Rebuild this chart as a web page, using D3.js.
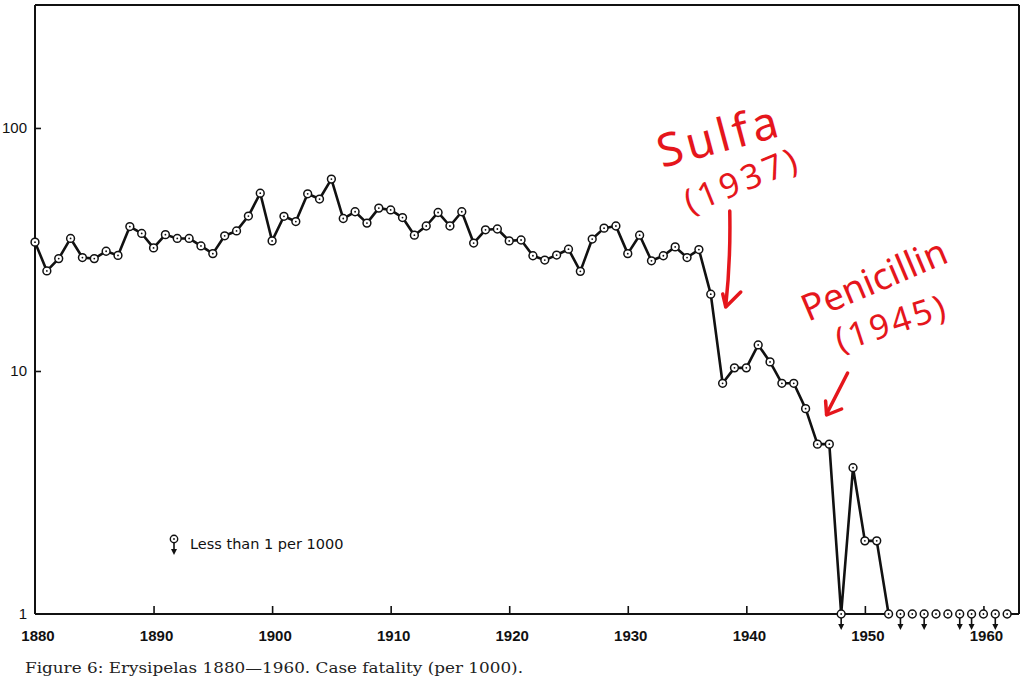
<!DOCTYPE html>
<html>
<head>
<meta charset="utf-8">
<script src="https://cdn.jsdelivr.net/npm/d3@7"></script>
<style>
  html, body { margin: 0; padding: 0; background: #fff; }
  svg { display: block; }
</style>
</head>
<body>
<svg id="chart" width="1024" height="684"></svg>
<script>
// ---------------- DATA ----------------
const years = [
  1880,1881,1882,1883,1884,1885,1886,1887,1888,1889,
  1890,1891,1892,1893,1894,1895,1896,1897,1898,1899,
  1900,1901,1902,1903,1904,1905,1906,1907,1908,1909,
  1910,1911,1912,1913,1914,1915,1916,1917,1918,1919,
  1920,1921,1922,1923,1924,1925,1926,1927,1928,1929,
  1930,1931,1932,1933,1934,1935,1936,1937,1938,1939,
  1940,1941,1942,1943,1944,1945,1946,1947,1948,1949,
  1950,1951,1952,1953,1954,1955,1956,1957,1958,1959,
  1960,1961,1962
];
// case fatality per 1000 (values below 1 are drawn on the "1" line)
const fatality = [
  33.9,25.8,29.0,35.1,29.3,29.0,31.1,29.9,39.3,36.8,
  32.1,36.4,35.1,35.1,32.7,30.4,36.0,37.7,43.4,53.9,
  34.3,43.3,41.2,53.6,51.0,61.6,42.4,45.2,40.6,46.8,
  46.0,42.8,36.2,39.5,44.9,39.5,45.2,33.6,38.1,38.4,
  34.3,34.6,29.8,28.6,30.0,31.7,25.7,34.9,38.7,39.5,
  30.4,36.2,28.4,29.8,32.4,29.3,31.6,20.7,8.9,10.3,
  10.3,12.8,10.9,8.9,8.9,7.0,5.0,5.0,1,4.0,
  2.0,2.0,1,1,1,1,1,1,1,1,
  1,1,1
];
// years flagged "Less than 1 per 1000"
const lessThanYears = [1948, 1953, 1955, 1958, 1959, 1961];
// the connecting line ends in 1952
const lineEndYear = 1952;

const xTickYears = [1880,1890,1900,1910,1920,1930,1940,1950,1960];
const xTickLabels = ["1880","1890","1900","1910","1920","1930","1940","1950","1960"];
const yTickValues = [100, 10, 1];
const yTickLabels = ["100", "10", "1"];

const legendLabel = "Less than 1 per 1000";
const caption = "Figure 6: Erysipelas 1880\u20141960. Case fatality (per 1000).";
const annotations = [
  { text: "Sulfa", year: 1937 },
  { text: "(1937)", year: 1937 },
  { text: "Penicillin", year: 1945 },
  { text: "(1945)", year: 1945 }
];

// ---------------- LAYOUT ----------------
(function () {
const svg = d3.select("#chart");
const pL = 35, pR = 1019, pT = 5, pB = 614;
const x = d3.scaleLinear().domain([1880, 1963]).range([pL, pR]);
const y = d3.scaleLog().domain([1, Math.pow(10, 2.506)]).range([pB, pT]);

const data = years.map((yr, i) => ({ year: yr, value: fatality[i], less: lessThanYears.includes(yr) }));
const ink = "#111";
const red = "#e5161c";

// frame
const frame = svg.append("g").attr("fill", "none").attr("stroke", ink).attr("stroke-width", 2);
frame.append("line").attr("x1", pL).attr("x2", pL).attr("y1", pT).attr("y2", pB);
frame.append("line").attr("x1", pL).attr("x2", pR).attr("y1", pT).attr("y2", pT);
frame.append("line").attr("x1", pR).attr("x2", pR).attr("y1", pT).attr("y2", pB);
frame.append("line").attr("x1", pL).attr("x2", x(lineEndYear)).attr("y1", pB).attr("y2", pB);
frame.append("line").attr("x1", x(years[years.length - 1])).attr("x2", pR).attr("y1", pB).attr("y2", pB);

// x ticks (pointing inward)
const xAxis = d3.axisTop(x).tickValues(xTickYears.slice(1)).tickSize(8).tickFormat("");
const gx = svg.append("g").attr("transform", `translate(0,${pB})`).call(xAxis);
gx.select(".domain").remove();
gx.selectAll(".tick line").attr("stroke", ink).attr("stroke-width", 1.6);

svg.append("g").selectAll("text").data(xTickYears).join("text")
  .attr("x", d => x(d) + 3)
  .attr("y", 641)
  .attr("text-anchor", "middle")
  .attr("font-family", "Liberation Sans, Arial, sans-serif")
  .attr("font-size", 15)
  .attr("font-weight", "bold")
  .attr("fill", ink)
  .text((d, i) => xTickLabels[i]);

// y ticks
const yAxis = d3.axisRight(y).tickValues(yTickValues.slice(0, 2)).tickSize(6).tickFormat("");
const gy = svg.append("g").attr("transform", `translate(${pL},0)`).call(yAxis);
gy.select(".domain").remove();
gy.selectAll(".tick line").attr("stroke", ink).attr("stroke-width", 1.6);

svg.append("g").selectAll("text").data(yTickValues).join("text")
  .attr("x", 27)
  .attr("y", d => y(d) + 5)
  .attr("text-anchor", "end")
  .attr("font-family", "Liberation Sans, Arial, sans-serif")
  .attr("font-size", 15)
  .attr("fill", ink)
  .text((d, i) => yTickLabels[i]);

// data line
const lineData = data.filter(d => d.year <= lineEndYear);
svg.append("path")
  .datum(lineData)
  .attr("fill", "none")
  .attr("stroke", ink)
  .attr("stroke-width", 2.6)
  .attr("stroke-linejoin", "round")
  .attr("d", d3.line().x(d => x(d.year)).y(d => y(d.value)));

function downArrow(g, cx, cy) {
  g.append("line").attr("x1", cx).attr("x2", cx).attr("y1", cy + 4).attr("y2", cy + 13)
    .attr("stroke", ink).attr("stroke-width", 1.6);
  g.append("path").attr("d", `M${cx - 3},${cy + 10} L${cx},${cy + 16} L${cx + 3},${cy + 10} Z`)
    .attr("fill", ink);
}

// markers
const marks = svg.append("g");
data.forEach(d => {
  const cx = x(d.year), cy = y(d.value);
  if (d.less) downArrow(marks, cx, cy);
  marks.append("circle").attr("cx", cx).attr("cy", cy).attr("r", 3.9)
    .attr("fill", "#fff").attr("stroke", ink).attr("stroke-width", 1.5);
  marks.append("circle").attr("cx", cx).attr("cy", cy).attr("r", 0.9).attr("fill", ink);
});

// legend
const lg = svg.append("g");
downArrow(lg, 174, 539);
lg.append("circle").attr("cx", 174).attr("cy", 539).attr("r", 3.7)
  .attr("fill", "#fff").attr("stroke", ink).attr("stroke-width", 1.4);
lg.append("circle").attr("cx", 174).attr("cy", 539).attr("r", 0.9).attr("fill", ink);
lg.append("text").attr("x", 190).attr("y", 549)
  .attr("font-family", "DejaVu Sans, sans-serif")
  .attr("font-size", 14.5).attr("fill", ink).text(legendLabel);

// caption
svg.append("text").attr("x", 25).attr("y", 673)
  .attr("font-family", "DejaVu Serif, serif")
  .attr("font-size", 15).attr("fill", "#222")
  .attr("textLength", 498).attr("lengthAdjust", "spacingAndGlyphs")
  .text(caption);

// handwritten red annotations
const ann = svg.append("g").attr("fill", red).attr("font-family", "Noto Sans, DejaVu Sans, sans-serif");
ann.append("text").attr("transform", "translate(662,168) rotate(-15)")
  .attr("font-size", 46).attr("letter-spacing", 4).text(annotations[0].text);
ann.append("text").attr("transform", "translate(690,214) rotate(-22)")
  .attr("font-size", 34).attr("letter-spacing", 4).text(annotations[1].text);
ann.append("text").attr("transform", "translate(808,322) rotate(-23)")
  .attr("font-size", 37).attr("letter-spacing", 0).text(annotations[2].text);
ann.append("text").attr("transform", "translate(840,352) rotate(-18)")
  .attr("font-size", 34).attr("letter-spacing", 3).text(annotations[3].text);

const arrows = svg.append("g").attr("fill", "none").attr("stroke", red)
  .attr("stroke-width", 3.5).attr("stroke-linecap", "round").attr("stroke-linejoin", "round");
const ax1 = x(annotations[0].year) + 18;
arrows.append("path").attr("d", `M${ax1 + 1},211 Q${ax1 + 2},260 ${ax1 - 3},306`);
arrows.append("path").attr("d", `M${ax1 - 6},294 L${ax1 - 3},307 L${ax1 + 12},292`);
const ax2 = x(annotations[2].year) + 21;
arrows.append("path").attr("d", `M${ax2 + 21},373 L${ax2},414`);
arrows.append("path").attr("d", `M${ax2 - 1},401 L${ax2},415 L${ax2 + 15},409`);
})();
</script>
</body>
</html>
